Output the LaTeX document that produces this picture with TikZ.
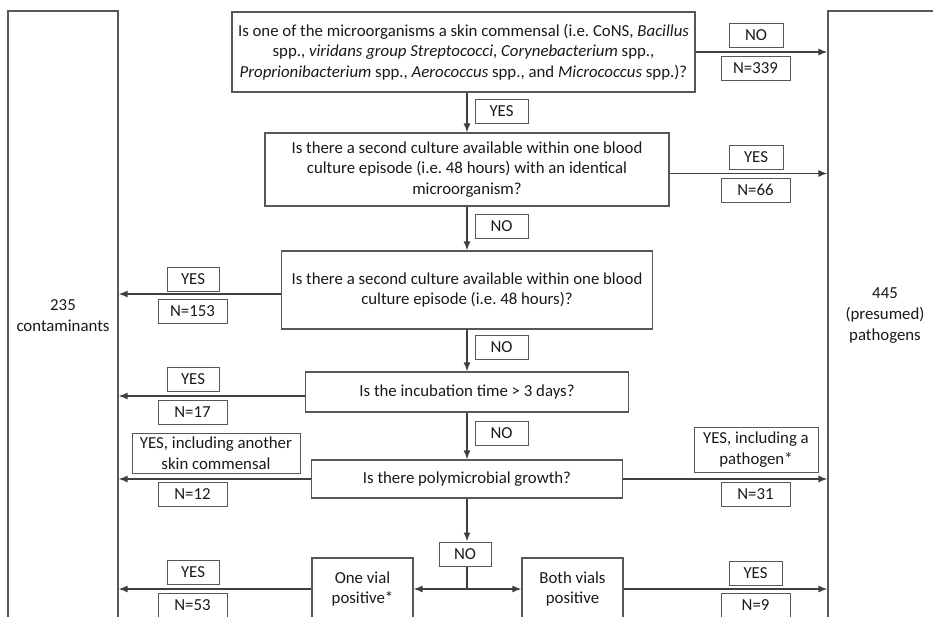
\documentclass[tikz,border=0pt]{standalone}
\usepackage{fontspec}
\setmainfont{Carlito}
\usetikzlibrary{arrows.meta}
\definecolor{boxline}{RGB}{92,86,84}
\definecolor{arrline}{RGB}{64,62,62}

\begin{document}
\begin{tikzpicture}[x=1pt, y=-1pt, font=\fontsize{16.8}{20.7}\selectfont, text=black!90,
	question/.style={draw=boxline, line width=1.1pt, align=center, inner sep=0pt},
	tag/.style={draw=boxline, line width=1pt, align=center, inner sep=0pt, minimum height=24pt},
	link/.style={draw=arrline, line width=1.4pt},
	flow/.style={link, -{Latex[length=9pt, width=7pt]}}]
\useasboundingbox (0,0) rectangle (933,616);
\clip (0,0) rectangle (933,616);
\node[question, minimum width=110pt, minimum height=609pt] (cont) at (63,315.5) {235\\contaminants};
\node[question, minimum width=114pt, minimum height=609pt] (path) at (885,315.5) {445\\(presumed)\\pathogens};
\node[question, minimum width=463pt, minimum height=80pt] (q1) at (463.5,52) {Is one of the microorganisms a skin commensal (i.e.\ CoNS, \textit{Bacillus}\\spp., \textit{viridans group Streptococci}, \textit{Corynebacterium} spp.,\\\textit{Proprionibacterium} spp., \textit{Aerococcus} spp., and \textit{Micrococcus} spp.)?};
\node[question, minimum width=404pt, minimum height=73pt] (q2) at (467,169.5) {Is there a second culture available within one blood\\culture episode (i.e.\ 48 hours) with an identical\\microorganism?};
\node[question, minimum width=371pt, minimum height=78pt] (q3) at (467,290) {Is there a second culture available within one blood\\culture episode (i.e.\ 48 hours)?};
\node[question, minimum width=323pt, minimum height=40pt] (q4) at (467,392) {Is the incubation time > 3 days?};
\node[question, minimum width=311pt, minimum height=38pt] (q5) at (467,479) {Is there polymicrobial growth?};
\node[question, minimum width=101pt, minimum height=62pt] (one) at (362.5,589) {One vial\\positive*};
\node[question, minimum width=101pt, minimum height=62pt] (both) at (572.5,589) {Both vials\\positive};

\node[tag, minimum width=54pt] (no1) at (756,35.5) {NO};
\node[tag, minimum width=53pt] (yes1) at (501.5,111) {YES};
\node[tag, minimum width=54pt] (yes2) at (756,157.5) {YES};
\node[tag, minimum width=53pt] (yes7) at (755.5,573) {YES};
\node[tag, minimum width=52pt] (no5) at (465,554) {NO};
\node[tag, minimum width=168pt, minimum height=40pt] (yes5l) at (216,453) {YES, including another\\skin commensal};
\node[tag, minimum width=124pt, minimum height=45pt] (yes5r) at (756,449.5) {YES, including a\\pathogen*};
\foreach \nm/\y in {no2/226, no3/347.5, no4/433}
	\node[tag, minimum width=53pt] (\nm) at (501.5,\y) {NO};
\foreach \nm/\y in {yes3/279, yes4/379.5, yes6/572.5}
	\node[tag, minimum width=52pt] (\nm) at (193,\y) {YES};
\foreach \nm/\y/\n in {n3/311/153, n4/412.5/17, n5l/494/12, n6/605/53}
	\node[tag, minimum width=69pt] (\nm) at (192.5,\y) {N=\n};
\foreach \nm/\y/\n in {n1/68.5/339, n2/190/66, n5r/494/31, n7/605/9}
	\node[tag, minimum width=69pt] (\nm) at (755.5,\y) {N=\n};

\draw[flow] (q1.east) -- (q1.east -| path.west);
\draw[flow] (q2.north |- q1.south) -- (q2.north);
\draw[flow] ([yshift=-4pt]q2.east) -- ([yshift=-4pt]q2.east -| path.west);
\draw[flow] (q2.south) -- (q3.north);
\draw[flow] ([yshift=-4pt]q3.west) -- ([yshift=-4pt]q3.west -| cont.east);
\draw[flow] (q3.south) -- (q4.north);
\draw[flow] ([yshift=-4pt]q4.west) -- ([yshift=-4pt]q4.west -| cont.east);
\draw[flow] (q4.south) -- (q5.north);
\draw[flow] (q5.west) -- (q5.west -| cont.east);
\draw[flow] (q5.east) -- (q5.east -| path.west);
\draw[flow] (q5.south) -- (q5.south |- no5.north);
\coordinate (split) at (q5.south |- one.east);
\draw[link] (q5.south |- no5.south) -- (split);
\draw[flow] (split) -- (one.east);
\draw[flow] (split) -- (both.west);
\draw[flow] (one.west) -- (one.west -| cont.east);
\draw[flow] (both.east) -- (both.east -| path.west);
\end{tikzpicture}
\end{document}
